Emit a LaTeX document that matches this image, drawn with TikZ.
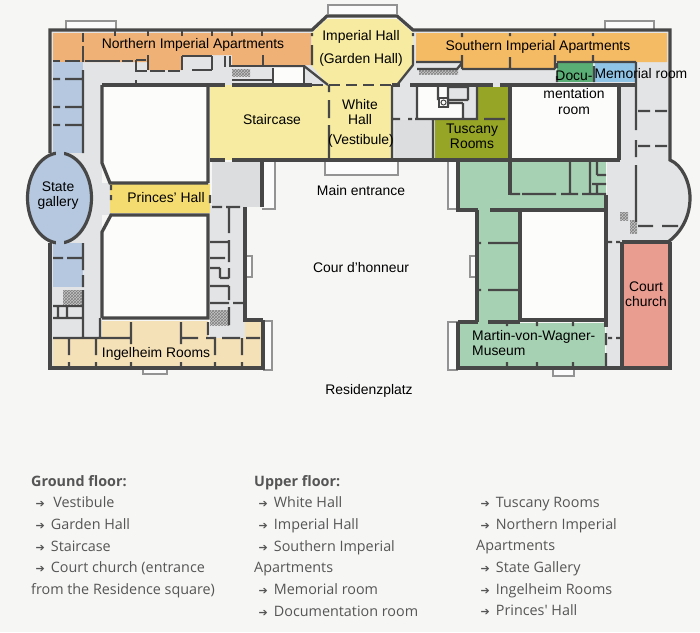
\documentclass[tikz,border=0pt]{standalone}
\usepackage{fontspec}
\usetikzlibrary{patterns}
\setmainfont{Liberation Sans}
\newfontfamily\listfont{Open Sans}
\newfontfamily\arrowfont{DejaVu Sans}
\newcommand{\lineitem}[1]{\hspace*{4.5pt}{\arrowfont\fontsize{11}{11}\selectfont ➔}\hspace*{6pt}#1}
\definecolor{bgc}{HTML}{F6F6F4}
\definecolor{wallc}{HTML}{474747}
\definecolor{corr}{HTML}{E3E4E6}
\definecolor{greyroom}{HTML}{DCDDDE}
\definecolor{paley}{HTML}{F6EBA0}
\definecolor{princes}{HTML}{F5DC70}
\definecolor{northo}{HTML}{EFB175}
\definecolor{southo}{HTML}{F5BB64}
\definecolor{galb}{HTML}{B5C8E0}
\definecolor{docu}{HTML}{58AE74}
\definecolor{memo}{HTML}{8FC4E6}
\definecolor{tusc}{HTML}{96A526}
\definecolor{museum}{HTML}{A7D1B3}
\definecolor{church}{HTML}{E99C90}
\definecolor{ingel}{HTML}{F5E1B8}
\definecolor{listc}{HTML}{555555}
\tikzset{
  x=1pt,y=-1pt,
  wall/.style={draw=wallc,line width=3.2pt,line cap=butt,line join=miter},
  iwall/.style={draw=wallc,line width=2.3pt,line cap=butt},
  annex/.style={draw=gray!85,line width=1.1pt,fill=white!60!bgc},
  stair/.style={fill=gray!45,postaction={pattern=crosshatch,pattern color=gray}},
  lab/.style={font=\fontsize{13.9}{15}\selectfont,text=black,inner sep=0pt,align=center},
  listnode/.style={anchor=north west,inner sep=0pt,align=left,text=listc,font=\listfont\fontsize{14.35}{21.7}\selectfont},
}
\begin{document}
\begin{tikzpicture}
\useasboundingbox (0,0) rectangle (700,632);
\fill[bgc] (0,0) rectangle (700,632);
% annexes
\draw[annex] (66,30) -- (66,21) -- (116,21) -- (116,30);
\draw[annex] (328,14) -- (328,5) -- (397,5) -- (397,14);
\draw[annex] (605,30) -- (605,21) -- (654,21) -- (654,30);
\draw[annex] (325,160) -- (325,175) -- (398,175) -- (398,160);
\draw[annex] (262,160) -- (275,160) -- (275,209) -- (262,209);
\draw[annex] (458,160) -- (448,160) -- (448,209) -- (458,209);
\draw[annex] (245,256) -- (252,256) -- (252,277) -- (245,277);
\draw[annex] (263,321) -- (272,321) -- (272,370) -- (263,370);
\draw[annex] (143,368) -- (143,374) -- (167,374) -- (167,368);
\draw[annex] (458,322) -- (448,322) -- (448,370) -- (458,370);
\draw[annex] (477,256) -- (470,256) -- (470,277) -- (477,277);
\draw[annex] (553,368) -- (553,376) -- (574,376) -- (574,368);
% building footprint
\fill[corr] (50,30) rectangle (670,85);
\fill[corr] (50,30) rectangle (102,368);
\fill[corr] (392,85) rectangle (510,160);
\fill[corr] (619,85) rectangle (670,165);
\fill[corr] (670,160) .. controls (682,165) and (690,182) .. (690,198) .. controls (690,220) and (678,235) .. (668,242) -- (607,242) -- (607,160) -- cycle;
\fill[corr] (606,240) rectangle (622,368);
\fill[corr] (210,205) rectangle (245,338);
\fill[corr] (90,183) rectangle (112,215);
% white courts and rooms
\fill[white!65!bgc] (102,85) -- (208,85) -- (208,183) -- (110,183) -- (102,163) -- cycle;
\fill[white!65!bgc] (102,232) -- (111,215) -- (208,215) -- (208,318) -- (102,318) -- cycle;
\fill[white!65!bgc] (511,85) rectangle (619,160);
\fill[white!65!bgc] (520,212) rectangle (606,318);
\fill[white!65!bgc] (417,87) rectangle (464,119);
\fill[corr] (448,87) rectangle (468,100);
\fill[white!65!bgc] (274,68) rectangle (304,83);
\fill[greyroom] (212,162) rectangle (262,207);
\fill[greyroom] (395,120) rectangle (435,158);
% coloured rooms
\fill[paley] (312,33) -- (327,19) -- (397,19) -- (413,33) -- (413,65) -- (397,85) -- (328,85) -- (312,66) -- cycle;
\fill[paley] (210,85) rectangle (392,160);
\fill[princes] (110,184) rectangle (210,213);
\fill[northo] (53,33) -- (311,33) -- (311,65) -- (232,65) -- (232,55) -- (182,55) -- (182,70) -- (148,70) -- (148,62) -- (53,62) -- cycle;
\fill[southo] (416,33) -- (667,33) -- (667,62) -- (555,62) -- (555,69) -- (462,69) -- (462,62) -- (416,62) -- cycle;
\fill[docu] (557,63) rectangle (593,82);
\fill[memo] (595,63) rectangle (635,82);
\fill[galb] (53,62) rectangle (83,153);
\fill[galb] (53,243) rectangle (83,287);
\fill[tusc] (435,120) rectangle (508,158);
\fill[tusc] (478,87) rectangle (508,120);
\fill[museum] (460,162) rectangle (606,210);
\fill[museum] (478,210) rectangle (519,323);
\fill[museum] (460,323) rectangle (605,366);
\fill[church] (623,242) rectangle (668,366);
\fill[ingel] (53,338) rectangle (262,366);
\fill[ingel] (102,321) rectangle (208,338);
\fill[ingel] (245,321) rectangle (262,338);
% stairs
\path[stair] (63,290) rectangle (83,304);
\path[stair] (210,310) rectangle (229,325);
\path[stair] (620,212) rectangle (628,220);
\path[stair] (630,220) rectangle (637,233);
\path[stair] (419,68) rectangle (458,74);
\path[stair] (232,69) rectangle (250,76);
% outer walls
\draw[wall] (50,153) -- (50,30) -- (312,30) -- (327,16) -- (397,16) -- (413,30) -- (670,30) -- (670,160) .. controls (682,165) and (690,182) .. (690,198) .. controls (690,220) and (678,235) .. (668,242);
\draw[wall] (670,242) -- (670,368) -- (458,368) -- (458,322);
\draw[wall] (263,320) -- (263,368) -- (50,368) -- (50,243);
\draw[wall,fill=galb] (59.5,198) ellipse [x radius=32,y radius=45];
\fill[galb] (56,150) rectangle (64,158);
\fill[galb] (56,238) rectangle (64,246);
% inner main walls
\draw[wall] (102,85) -- (225,85) (232,85) -- (312,85);
\draw[wall] (208,85) -- (208,183) (102,85) -- (102,163) -- (110,183) -- (208,183);
\draw[wall] (102,318) -- (102,232) -- (111,215) -- (208,215) -- (208,318) -- (102,318);
\draw[wall] (210,160) -- (225,160) (232,160) -- (458,160) (458,160) -- (620,160);
\draw[wall] (262,160) -- (262,207) (245,207) -- (245,320) -- (263,320);
\draw[wall] (392,85) -- (400,85) (410,85) -- (493,85) (500,85) -- (636,85);
\draw[wall] (510,85) -- (510,195);
\draw[wall] (458,160) -- (458,210) -- (478,210) (490,210) -- (606,210);
\draw[wall] (477,210) -- (477,322) (520,210) -- (520,320) -- (606,320);
\draw[wall] (606,195) -- (606,327) (458,322) -- (478,322) (488,322) -- (520,322);
\draw[wall] (622,242) -- (622,368) (622,242) -- (670,242);
\draw[wall] (619,85) -- (619,160);
% inner partitions
\draw[iwall] (83,33) -- (83,42) (83,46) -- (83,62)
  (115,30) -- (115,36) (148,30) -- (148,36) (182,30) -- (182,36) (212,30) -- (212,36) (232,30) -- (232,36) (262,30) -- (262,36)
  (53,61) -- (60,61) (65,61) -- (80,61) (85,61) -- (120,61) (122,61) -- (133,61) (136,60) -- (146,60)
  (136,60) -- (136,72) (136,80) -- (136,84)
  (148,55) -- (148,70) (136,71) -- (147,71) (150,71) -- (165,71) (168,71) -- (180,71)
  (182,56) -- (182,70) (182,56) -- (212,56) (212,56) -- (212,70) (192,70) -- (212,70)
  (225,56) -- (225,67) (230,56) -- (230,67) (263,55) -- (263,66) (230,66) -- (305,66)
  (273,68) -- (273,83) (304,66) -- (304,83) (232,80) -- (272,80);
\draw[iwall] (304,66) -- (328,85);
\draw[iwall,dash pattern=on 11pt off 6pt] (312,85) -- (392,85);
\draw[iwall] (312,33) -- (312,36) (312,45) -- (312,65) (413,33) -- (413,36) (413,45) -- (413,65) (413,65) -- (397,85) (329,85) -- (329,92) (329,100) -- (329,118) (329,125) -- (329,160)
  (392,85) -- (392,160)
  (416,62) -- (462,62) (462,33) -- (462,37) (462,55) -- (462,69) (510,33) -- (510,36) (510,57) -- (510,69) (555,33) -- (555,36) (555,55) -- (555,69) (593,33) -- (593,36) (593,55) -- (593,62)
  (557,63) -- (557,68) (557,76) -- (557,82)
  (462,69) -- (555,69) (417,69) -- (457,69) -- (462,63)
  (557,62) -- (636,62) (636,62) -- (636,130) (636,140) -- (636,157) (636,165) -- (636,222)
  (594,66) -- (594,82)
  (638,111) -- (650,111) (655,111) -- (667,111) (638,146) -- (650,146) (655,146) -- (667,146)
  (638,226) -- (653,226) (662,226) -- (678,226)
  (393,119) -- (400,119) (408,119) -- (412,119) (415,119) -- (478,119) (484,119) -- (505,119)
  (417,85) -- (417,119) (438,85) -- (438,100) (448,85) -- (448,107) (468,85) -- (468,100) (448,87) -- (468,87) (448,100) -- (468,100)
  (448,103) -- (463,103) (463,103) -- (463,119) (477,85) -- (477,119)
  (433,120) -- (433,158)
  (570,162) -- (570,194) (590,162) -- (590,194) (597,162) -- (597,175) (597,175) -- (606,175) (592,184) -- (606,184) (597,184) -- (597,194)
  (510,194) -- (520,194) (522,194) -- (556,194) (561,194) -- (578,194) (582,194) -- (606,194)
  (478,243) -- (481,243) (488,243) -- (518,243) (478,290) -- (481,290) (488,290) -- (518,290)
  (507,322) -- (507,326) (537,322) -- (537,326) (573,322) -- (573,326) (507,362) -- (507,366) (537,362) -- (537,366) (573,362) -- (573,366)
  (606,333) -- (606,345) (606,353) -- (606,368) (608,338) -- (612,338) (616,338) -- (620,338)
  (607,242) -- (612,242) (616,242) -- (620,242)
  (83,243) -- (83,270) (83,275) -- (83,287) (83,290) -- (83,338)
  (53,258) -- (63,258) (67,258) -- (83,258)
  (53,306) -- (83,306) (53,318) -- (83,318) (58,306) -- (58,318) (67,306) -- (67,318) (53,338) -- (130,338)
  (83,70) -- (83,153) (53,79) -- (60,79) (65,79) -- (83,79) (53,107) -- (60,107) (65,107) -- (83,107) (53,125) -- (60,125) (65,125) -- (83,125)
  (100,318) -- (100,338)
  (131,322) -- (131,344) (181,322) -- (181,344) (181,338) -- (198,338) (208,322) -- (208,335) (206,338) -- (216,338) (222,338) -- (240,338) (246,338) -- (260,338)
  (69,338) -- (69,355) (96,338) -- (96,355) (215,338) -- (215,355) (242,338) -- (242,355)
  (69,362) -- (69,366) (96,362) -- (96,366) (131,362) -- (131,366) (181,362) -- (181,366) (215,362) -- (215,366) (242,362) -- (242,366)
  (229,207) -- (229,233) (229,240) -- (229,262) (210,242) -- (229,242) (210,258) -- (225,258)
  (210,268) -- (220,268) (220,268) -- (220,278) (220,278) -- (229,278) (229,268) -- (229,278)
  (210,286) -- (229,286) (229,286) -- (229,300) (210,303) -- (229,303) (233,303) -- (243,303)
  (229,307) -- (229,325)
  (212,207) -- (222,207) (226,207) -- (240,207)
  (111,185) -- (111,190) (111,195) -- (111,200) (210,195) -- (210,203);
\draw[wallc,line width=1.4pt] (439,98) rectangle (448,107);
\draw[wallc,line width=1pt] (443.5,102.5) circle (2.5);
% labels
\node[lab,font=\fontsize{13.9}{23}\selectfont] (imperial) at (361,48.5) {Imperial Hall\\(Garden Hall)};
\node[lab] (northern) at (193,45) {Northern Imperial Apartments};
\node[lab] (southern) at (538,47) {Southern Imperial Apartments};
\node[lab] (docuA) at (574,76) {Docu-};
\node[lab] (memorial) at (641,74) {Memorial room};
\node[lab,font=\fontsize{13.9}{16}\selectfont] (docuB) at (574,102) {mentation\\room};
\node[lab] (staircase) at (272,120) {Staircase};
\node[lab] (whitehall) at (360,112) {White\\Hall};
\node[lab] (vestibule) at (361,141) {(Vestibule)};
\node[lab] (tuscany) at (472,136) {Tuscany\\Rooms};
\node[lab] (gallery) at (58,196) {State\\gallery};
\node[lab] (princesh) at (166,198) {Princes’ Hall};
\node[lab] (entrance) at (361,191) {Main entrance};
\node[lab] (cour) at (361,268) {Cour d’honneur};
\node[lab] (ingelheim) at (156,354) {Ingelheim Rooms};
\node[lab,anchor=west,align=left] (wagner) at (472,343.5) {Martin-von-Wagner-\\Museum};
\node[lab] (courtch) at (646,294) {Court\\church};
\node[lab] (platz) at (369,391) {Residenzplatz};
% lists
\node[listnode] (ground) at (31,475) {\textbf{Ground floor:}\\\lineitem{\,Vestibule}\\\lineitem{Garden Hall}\\\lineitem{Staircase}\\\lineitem{Court church (entrance}\\from the Residence square)};
\node[listnode] (upper) at (254,475) {\textbf{Upper floor:}\\\lineitem{White Hall}\\\lineitem{Imperial Hall}\\\lineitem{Southern Imperial}\\Apartments\\\lineitem{Memorial room}\\\lineitem{Documentation room}};
\node[listnode] (upper2) at (476,497) {\lineitem{Tuscany Rooms}\\\lineitem{Northern Imperial}\\Apartments\\\lineitem{State Gallery}\\\lineitem{Ingelheim Rooms}\\\lineitem{Princes' Hall}};
\end{tikzpicture}
\end{document}
